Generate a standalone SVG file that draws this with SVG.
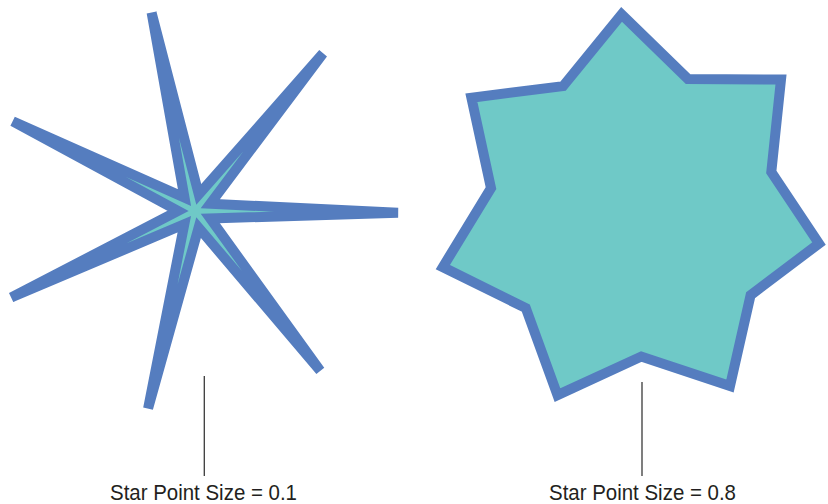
<svg xmlns="http://www.w3.org/2000/svg" width="828" height="504" viewBox="0 0 828 504">
<style>
.star{fill:#6fc9c7;stroke:#557dbf;stroke-width:10;stroke-miterlimit:4}
.lead{stroke:#3a3a3a;stroke-width:1.3;fill:none}
.lbl{font-family:"Liberation Sans",Arial,sans-serif;font-size:22px;fill:#231f20}
</style>
<rect width="828" height="504" fill="#ffffff"/>
<g id="star-thin">
<polygon class="star" points="398,212.8 210.3,218.5 320.2,370.8 198.6,227.6 148.1,408.5 184.3,224.2 11.3,297.5 178,210.9 12.8,121.3 184.5,197.6 151.6,12.7 198.8,194.4 323,53.4 210.3,203.7"/>
</g>
<g id="star-fat">
<polygon class="star" points="621.6,14.3 687.9,78.9 781,79.5 771.3,171.9 819,243.5 750.6,295.2 730,386 641.3,356.5 557.5,395.1 525.8,308.1 442.8,267.1 491,188.1 471.4,97.7 563.1,86.1"/>
</g>
<g id="connectors">
<line class="lead" x1="204.3" y1="376" x2="204.3" y2="476"/>
<line class="lead" x1="642" y1="382" x2="642" y2="476"/>
</g>
<g id="label-thin">
<text class="lbl" x="110" y="500" textLength="187" lengthAdjust="spacingAndGlyphs">Star Point Size = 0.1</text>
</g>
<g id="label-fat">
<text class="lbl" x="549" y="500" textLength="187" lengthAdjust="spacingAndGlyphs">Star Point Size = 0.8</text>
</g>
</svg>
